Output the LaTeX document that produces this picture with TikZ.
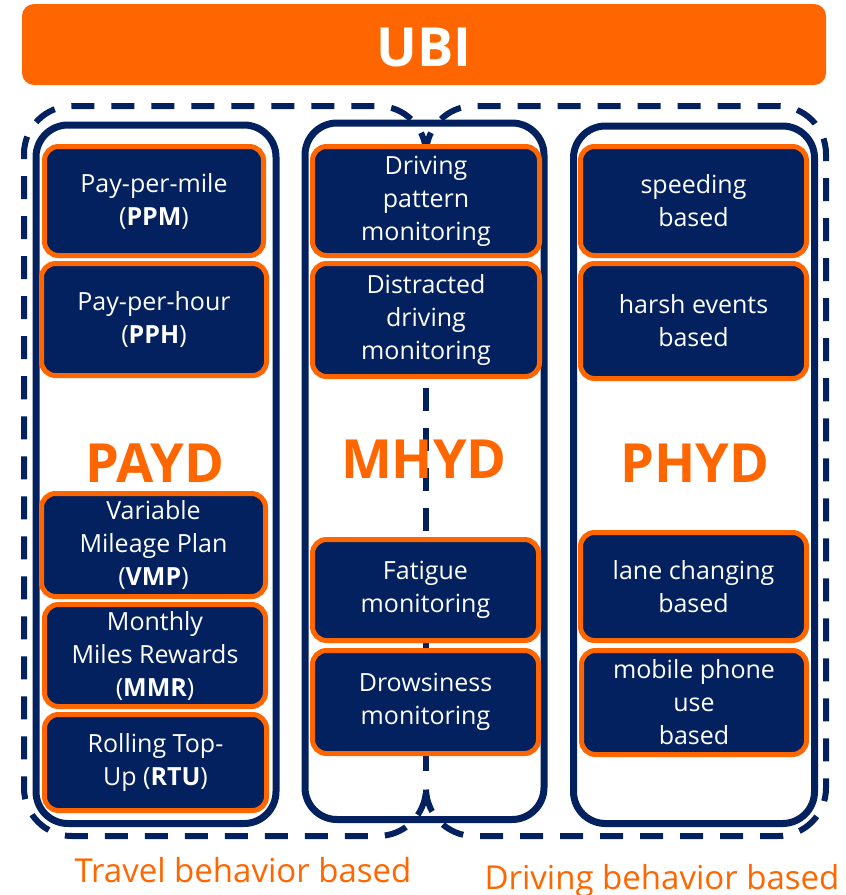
\documentclass[tikz,border=0pt]{standalone}
\usepackage{fontspec}
\setmainfont{Open Sans}
\begin{document}
\definecolor{navy}{HTML}{03215E}
\definecolor{ubiorange}{HTML}{FF6600}
\begin{tikzpicture}[x=1pt,y=-1pt,
  ubox/.style={draw=ubiorange, line width=5pt, fill=navy, rounded corners=14pt,
    text=white, align=center, inner sep=0pt,
    font=\fontsize{25}{33}\selectfont},
  colframe/.style={draw=navy, line width=7pt, rounded corners=32pt},
  groupframe/.style={draw=navy, line width=6pt, rounded corners=48pt,
    dash pattern=on 23pt off 17pt},
  bigtitle/.style={text=ubiorange, font=\fontsize{54}{60}\selectfont\bfseries,
    anchor=base, inner sep=0pt},
  grouplabel/.style={text=ubiorange, font=\fontsize{33}{38}\selectfont,
    anchor=base, inner sep=0pt}]
\useasboundingbox (0,0) rectangle (846,895);

% box from outer corners (x1,y1)-(x2,y2)
\newcommand\ubox[6]{\node[ubox, minimum width={#4-#2-5}, minimum height={#5-#3-5}]
  (#1) at ({(#2+#4)/2},{(#3+#5)/2}) {#6};}

% title bar
\node[fill=ubiorange, rounded corners=12pt, minimum width=804pt, minimum height=81pt,
  inner sep=0pt] (ubi) at (424,44.5) {};
\node[text=white, font=\fontsize{54}{60}\selectfont\bfseries, anchor=base, inner sep=0pt]
  (ubitext) at (424,66) {UBI};

% dashed groups: travel behaviour (left) and driving behaviour (right),
% sharing one dashed divider down the middle
\coordinate (gtop) at (426,106);
\coordinate (gbot) at (426,836);
\draw[groupframe] (426,155) -- (gtop) -- (24,106) -- (24,836) -- (gbot) -- (426,787);
\draw[groupframe] (426,155) -- (gtop) -- (826,106) -- (826,836) -- (gbot) -- (426,787);
\draw[groupframe, dash phase=10pt] (426,158) -- (426,784);

% columns
\draw[colframe] (36,125) rectangle (276,823.5);
\draw[colframe] (305,123) rectangle (544,819.5);
\draw[colframe] (573.5,126) rectangle (814.5,823.5);

% PAYD column
\ubox{ppm}{42}{144}{266}{258}{Pay-per-mile\\(\textbf{PPM})}
\ubox{pph}{39}{261}{269}{378}{Pay-per-hour\\(\textbf{PPH})}
\ubox{vmp}{39}{491}{268}{599}{Variable\\Mileage Plan\\(\textbf{VMP})}
\ubox{mmr}{42}{602}{268}{709}{Monthly\\Miles Rewards\\(\textbf{MMR})}
\ubox{rtu}{42}{712}{269}{813}{Rolling Top-\\Up (\textbf{RTU})}

% MHYD column
\ubox{dpm}{310}{144}{542}{258}{Driving\\pattern\\monitoring}
\ubox{ddm}{310}{261}{542}{379}{Distracted\\driving\\monitoring}
\ubox{fat}{310}{537}{541}{643}{Fatigue\\monitoring}
\ubox{drw}{310}{648}{541}{756}{Drowsiness\\monitoring}

% PHYD column
\ubox{spd}{578}{144}{809}{258}{speeding\\based}
\ubox{hrs}{578}{261}{809}{381}{harsh events\\based}
\ubox{lane}{578}{530}{809}{643}{lane changing\\based}
\ubox{mob}{579}{648}{809}{757}{mobile phone\\use\\based}

% column titles
\node[bigtitle] (payd) at (155,482) {PAYD};
\node[bigtitle] (mhyd) at (424,478) {MHYD};
\node[bigtitle] (phyd) at (695,482) {PHYD};

% group labels
\node[grouplabel] (travel) at (243,882) {Travel behavior based};
\node[grouplabel] (driving) at (662,889) {Driving behavior based};
\end{tikzpicture}
\end{document}
